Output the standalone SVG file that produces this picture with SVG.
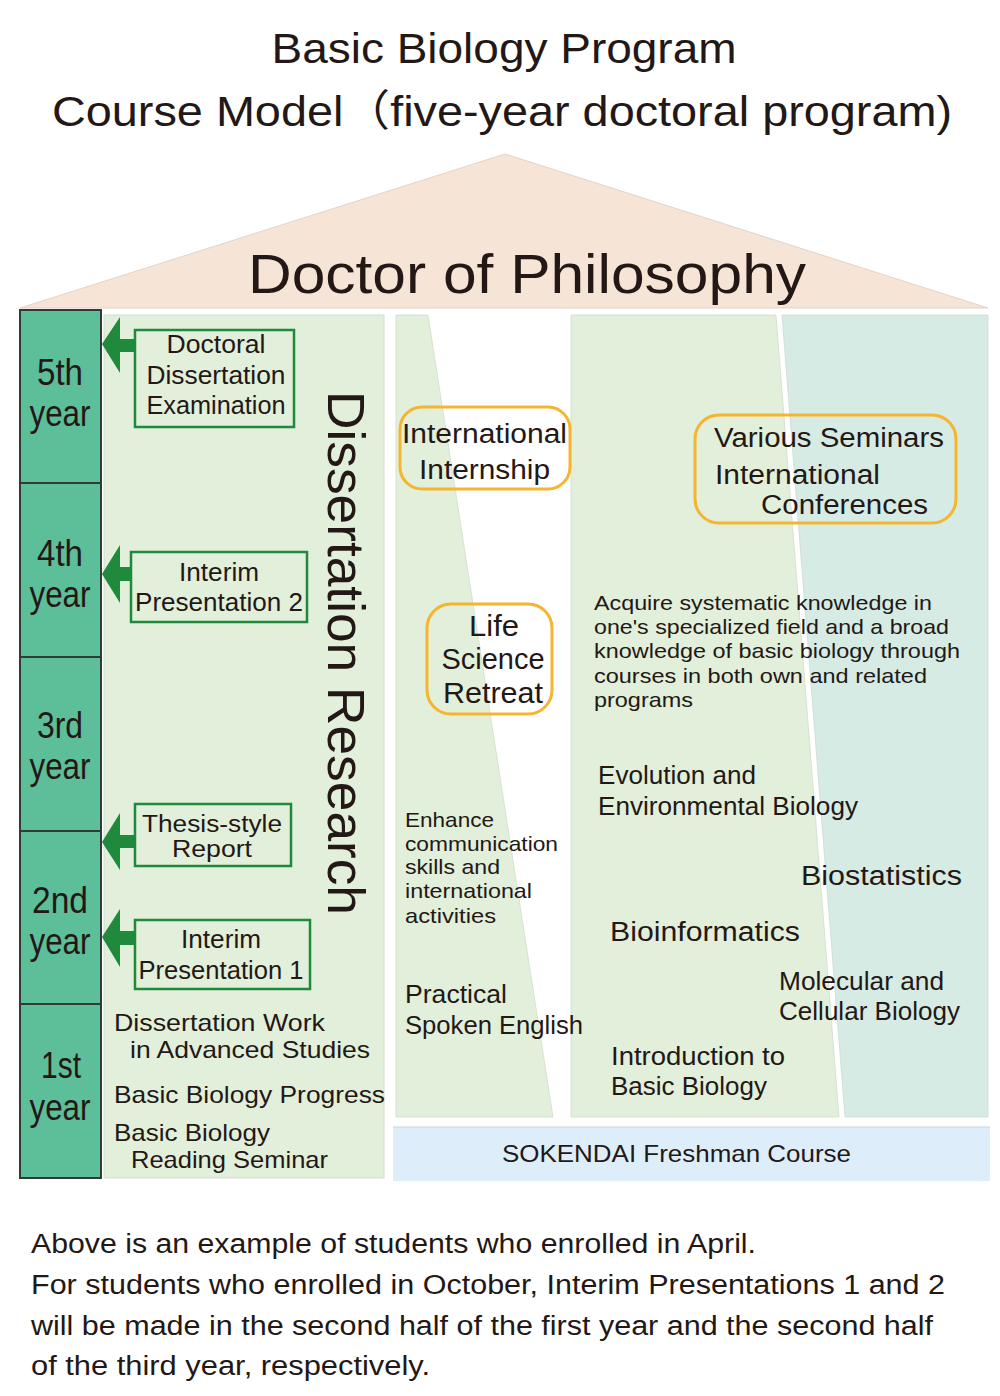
<svg xmlns="http://www.w3.org/2000/svg" width="1000" height="1396" viewBox="0 0 1000 1396">
<style>
text{font-family:"Liberation Sans","Noto Sans CJK JP",sans-serif;fill:#231815}
.yr{fill:#5dbe9a;stroke:#2f3b34;stroke-width:2}
.pg{fill:#e2efda}
.pt{fill:#d5ebe4}
.gb{fill:none;stroke:#1f8a3b;stroke-width:2.5}
.ob{fill:none;stroke:#f5b52e;stroke-width:3}
.ar{fill:#1f8a3b}
.t21{font-size:21px}.t23{font-size:23px}.t24{font-size:24px}.t25{font-size:25px}.t27{font-size:27px}.t29{font-size:29px}.ty{font-size:37px}
</style>
<rect width="1000" height="1396" fill="#ffffff"/>
<g id="title">
<text x="504" y="63" font-size="43" text-anchor="middle" textLength="465" lengthAdjust="spacingAndGlyphs">Basic Biology Program</text>
<text x="52" y="126" font-size="43" textLength="900" lengthAdjust="spacingAndGlyphs">Course Model（five-year doctoral program)</text>
</g>
<g id="roof">
<polygon points="20,308 505,154 988,308" fill="#f6e4d7" stroke="#e2d3c8" stroke-width="1"/>
<text x="248" y="293" font-size="56" textLength="558" lengthAdjust="spacingAndGlyphs">Doctor of Philosophy</text>
</g>
<g id="panels">
<rect class="pg" x="104" y="315" width="280" height="863" stroke="#d3dccd" stroke-width="1"/>
<polygon class="pg" points="396,315 428,315 553,1117 396,1117" stroke="#d3dccd" stroke-width="0.8"/>
<polygon class="pg" points="571,315 776,315 839,1117 571,1117" stroke="#d3dccd" stroke-width="0.8"/>
<polygon class="pt" points="782,315 988,315 988,1117 845,1117" stroke="#cddbd5" stroke-width="0.8"/>
<rect x="393" y="1127" width="597" height="54" fill="#ddeefa"/>
<line x1="393" y1="1127" x2="990" y2="1127" stroke="#c9d3da" stroke-width="1"/>
</g>
<g id="years">
<rect class="yr" x="20" y="310" width="81" height="173"/>
<rect class="yr" x="20" y="483" width="81" height="174"/>
<rect class="yr" x="20" y="657" width="81" height="174"/>
<rect class="yr" x="20" y="831" width="81" height="173"/>
<rect class="yr" x="20" y="1004" width="81" height="174"/>
<text class="ty" x="60" y="385" text-anchor="middle" textLength="46" lengthAdjust="spacingAndGlyphs">5th</text>
<text class="ty" x="60" y="426" text-anchor="middle" textLength="61" lengthAdjust="spacingAndGlyphs">year</text>
<text class="ty" x="60" y="566" text-anchor="middle" textLength="46" lengthAdjust="spacingAndGlyphs">4th</text>
<text class="ty" x="60" y="607" text-anchor="middle" textLength="61" lengthAdjust="spacingAndGlyphs">year</text>
<text class="ty" x="60" y="738" text-anchor="middle" textLength="46" lengthAdjust="spacingAndGlyphs">3rd</text>
<text class="ty" x="60" y="779" text-anchor="middle" textLength="61" lengthAdjust="spacingAndGlyphs">year</text>
<text class="ty" x="60" y="913" text-anchor="middle" textLength="56" lengthAdjust="spacingAndGlyphs">2nd</text>
<text class="ty" x="60" y="954" text-anchor="middle" textLength="61" lengthAdjust="spacingAndGlyphs">year</text>
<text class="ty" x="61" y="1078" text-anchor="middle" textLength="40" lengthAdjust="spacingAndGlyphs">1st</text>
<text class="ty" x="60" y="1120" text-anchor="middle" textLength="61" lengthAdjust="spacingAndGlyphs">year</text>
</g>
<g id="research-panel">
<text transform="translate(328,391) rotate(90)" font-size="52" textLength="524" lengthAdjust="spacingAndGlyphs">Dissertation Research</text>
<text class="t24" x="114" y="1031" textLength="211" lengthAdjust="spacingAndGlyphs">Dissertation Work</text>
<text class="t24" x="130" y="1058" textLength="240" lengthAdjust="spacingAndGlyphs">in Advanced Studies</text>
<text class="t24" x="114" y="1103" textLength="271" lengthAdjust="spacingAndGlyphs">Basic Biology Progress</text>
<text class="t24" x="114" y="1141" textLength="156" lengthAdjust="spacingAndGlyphs">Basic Biology</text>
<text class="t24" x="131" y="1168" textLength="197" lengthAdjust="spacingAndGlyphs">Reading Seminar</text>
</g>
<g id="connectors">
<polygon class="ar" points="102,344 120,317 120,339 135,339 135,352 120,352 120,373"/>
<polygon class="ar" points="102,574 120,545 120,567 131,567 131,581 120,581 120,603"/>
<polygon class="ar" points="102,842 120,813 120,835 135,835 135,848 120,848 120,870"/>
<polygon class="ar" points="102,937 120,909 120,931 135,931 135,945 120,945 120,967"/>
</g>
<g id="box-exam">
<rect class="gb" x="135" y="330" width="159" height="97"/>
<text class="t25" x="216" y="353" text-anchor="middle" textLength="99" lengthAdjust="spacingAndGlyphs">Doctoral</text>
<text class="t25" x="216" y="384" text-anchor="middle" textLength="139" lengthAdjust="spacingAndGlyphs">Dissertation</text>
<text class="t25" x="216" y="414" text-anchor="middle" textLength="139" lengthAdjust="spacingAndGlyphs">Examination</text>
</g>
<g id="box-interim2">
<rect class="gb" x="131" y="552" width="176" height="70"/>
<text class="t25" x="219" y="581" text-anchor="middle" textLength="80" lengthAdjust="spacingAndGlyphs">Interim</text>
<text class="t25" x="219" y="611" text-anchor="middle" textLength="168" lengthAdjust="spacingAndGlyphs">Presentation 2</text>
</g>
<g id="box-thesis">
<rect class="gb" x="135" y="804" width="156" height="62"/>
<text class="t23" x="212" y="832" text-anchor="middle" textLength="140" lengthAdjust="spacingAndGlyphs">Thesis-style</text>
<text class="t23" x="212" y="857" text-anchor="middle" textLength="80" lengthAdjust="spacingAndGlyphs">Report</text>
</g>
<g id="box-interim1">
<rect class="gb" x="135" y="920" width="175" height="69"/>
<text class="t25" x="221" y="948" text-anchor="middle" textLength="80" lengthAdjust="spacingAndGlyphs">Interim</text>
<text class="t25" x="221" y="979" text-anchor="middle" textLength="165" lengthAdjust="spacingAndGlyphs">Presentation 1</text>
</g>
<g id="communication-panel">
<text class="t21" x="405" y="827" textLength="89" lengthAdjust="spacingAndGlyphs">Enhance</text>
<text class="t21" x="405" y="851" textLength="153" lengthAdjust="spacingAndGlyphs">communication</text>
<text class="t21" x="405" y="874" textLength="95" lengthAdjust="spacingAndGlyphs">skills and</text>
<text class="t21" x="405" y="898" textLength="127" lengthAdjust="spacingAndGlyphs">international</text>
<text class="t21" x="405" y="923" textLength="91" lengthAdjust="spacingAndGlyphs">activities</text>
<text class="t25" x="405" y="1003" textLength="102" lengthAdjust="spacingAndGlyphs">Practical</text>
<text class="t25" x="405" y="1034" textLength="178" lengthAdjust="spacingAndGlyphs">Spoken English</text>
</g>
<g id="box-internship">
<rect class="ob" x="400" y="407" width="170" height="82" rx="22"/>
<text class="t27" x="402" y="443" textLength="165" lengthAdjust="spacingAndGlyphs">International</text>
<text class="t27" x="419" y="479" textLength="131" lengthAdjust="spacingAndGlyphs">Internship</text>
</g>
<g id="box-retreat">
<rect class="ob" x="427" y="604" width="125" height="110" rx="24"/>
<text class="t29" x="494" y="636" text-anchor="middle" textLength="50" lengthAdjust="spacingAndGlyphs">Life</text>
<text class="t29" x="493" y="669" text-anchor="middle" textLength="103" lengthAdjust="spacingAndGlyphs">Science</text>
<text class="t29" x="493" y="703" text-anchor="middle" textLength="100" lengthAdjust="spacingAndGlyphs">Retreat</text>
</g>
<g id="courses-panel">
<text class="t21" x="594" y="610" textLength="338" lengthAdjust="spacingAndGlyphs">Acquire systematic knowledge in</text>
<text class="t21" x="594" y="634" textLength="355" lengthAdjust="spacingAndGlyphs">one's specialized field and a broad</text>
<text class="t21" x="594" y="658" textLength="366" lengthAdjust="spacingAndGlyphs">knowledge of basic biology through</text>
<text class="t21" x="594" y="683" textLength="333" lengthAdjust="spacingAndGlyphs">courses in both own and related</text>
<text class="t21" x="594" y="707" textLength="99" lengthAdjust="spacingAndGlyphs">programs</text>
<text class="t25" x="598" y="784" textLength="158" lengthAdjust="spacingAndGlyphs">Evolution and</text>
<text class="t25" x="598" y="815" textLength="260" lengthAdjust="spacingAndGlyphs">Environmental Biology</text>
<text class="t27" x="801" y="885" textLength="161" lengthAdjust="spacingAndGlyphs">Biostatistics</text>
<text class="t27" x="610" y="941" textLength="190" lengthAdjust="spacingAndGlyphs">Bioinformatics</text>
<text class="t25" x="779" y="990" textLength="165" lengthAdjust="spacingAndGlyphs">Molecular and</text>
<text class="t25" x="779" y="1020" textLength="181" lengthAdjust="spacingAndGlyphs">Cellular Biology</text>
<text class="t25" x="611" y="1065" textLength="174" lengthAdjust="spacingAndGlyphs">Introduction to</text>
<text class="t25" x="611" y="1095" textLength="156" lengthAdjust="spacingAndGlyphs">Basic Biology</text>
</g>
<g id="box-seminars">
<rect class="ob" x="695" y="415" width="261" height="108" rx="24"/>
<text class="t27" x="714" y="447" textLength="230" lengthAdjust="spacingAndGlyphs">Various Seminars</text>
<text class="t27" x="715" y="484" textLength="165" lengthAdjust="spacingAndGlyphs">International</text>
<text class="t27" x="761" y="514" textLength="167" lengthAdjust="spacingAndGlyphs">Conferences</text>
</g>
<g id="freshman">
<text class="t24" x="502" y="1162" textLength="349" lengthAdjust="spacingAndGlyphs">SOKENDAI Freshman Course</text>
</g>
<g id="note">
<text class="t27" x="31" y="1253" textLength="725" lengthAdjust="spacingAndGlyphs">Above is an example of students who enrolled in April.</text>
<text class="t27" x="31" y="1294" textLength="914" lengthAdjust="spacingAndGlyphs">For students who enrolled in October, Interim Presentations 1 and 2</text>
<text class="t27" x="31" y="1335" textLength="902" lengthAdjust="spacingAndGlyphs">will be made in the second half of the first year and the second half</text>
<text class="t27" x="31" y="1375" textLength="399" lengthAdjust="spacingAndGlyphs">of the third year, respectively.</text>
</g>
</svg>
